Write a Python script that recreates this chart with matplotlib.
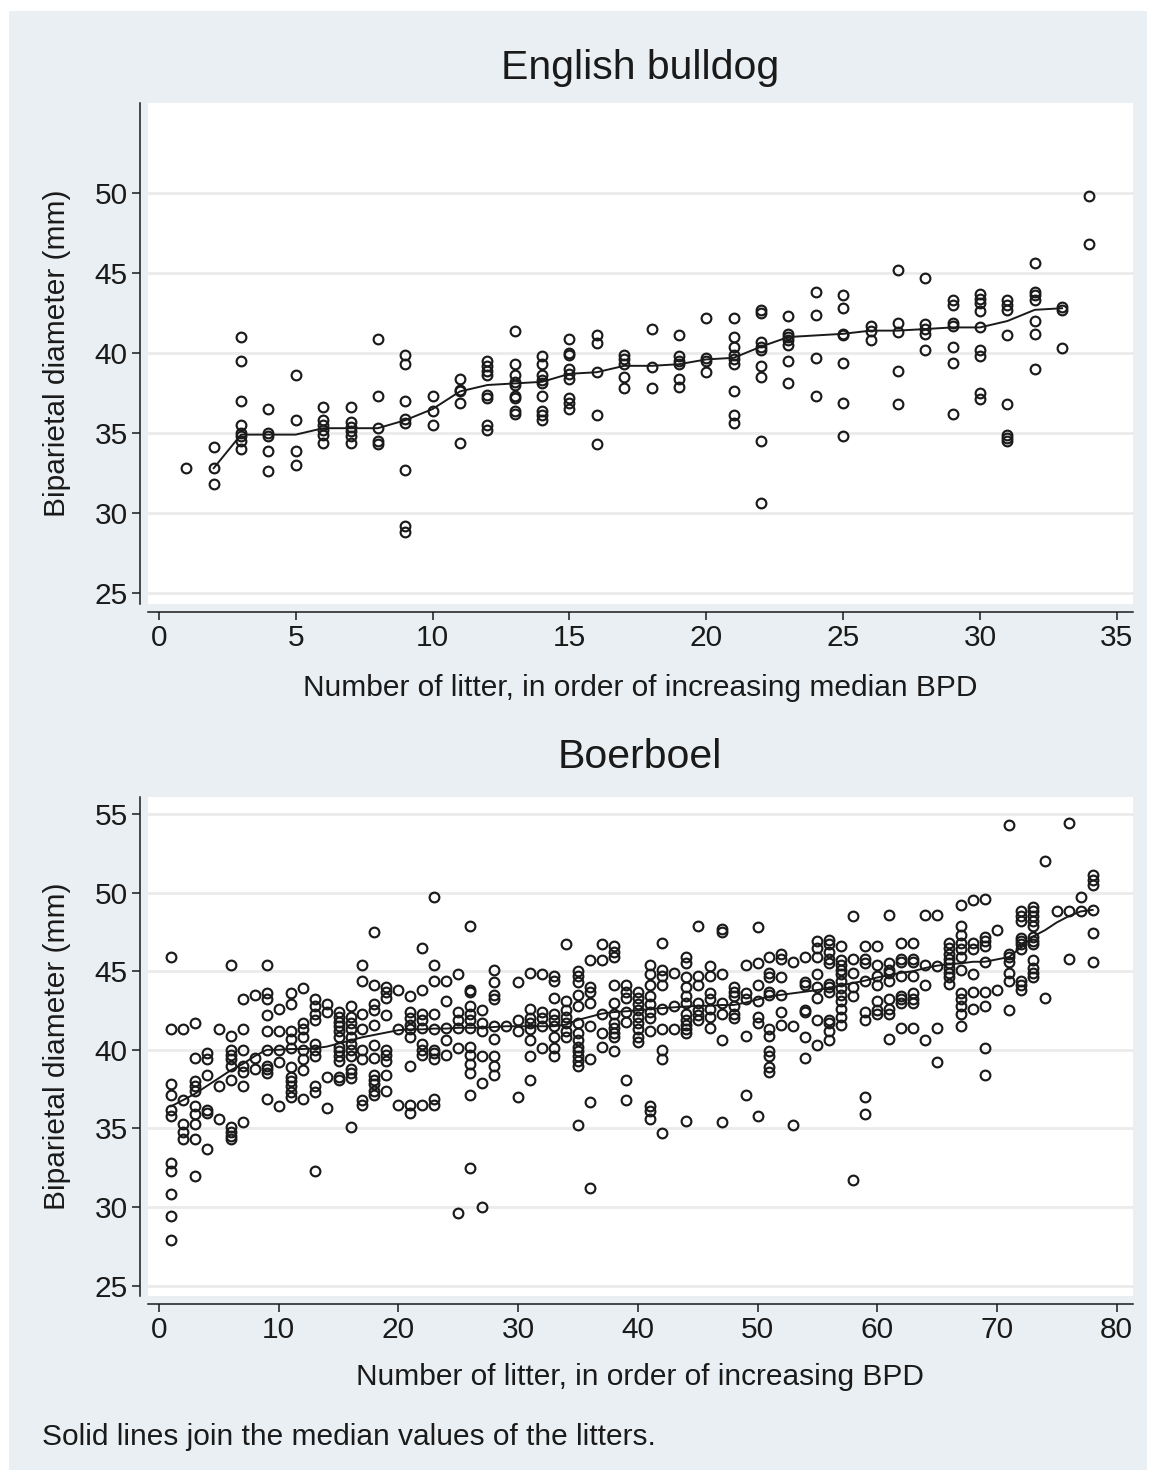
import matplotlib
matplotlib.use("Agg")
import matplotlib.pyplot as plt
from matplotlib.patches import Rectangle

plt.rcParams['font.family'] = ['Liberation Sans', 'DejaVu Sans']

# ===== Data: English bulldog, BPD (mm) per litter =====
bulldog_bpd = [
    [32.8],
    [34.1, 32.8, 31.8],
    [41.0, 39.5, 37.0, 35.5, 35.0, 34.8, 34.5, 34.0],
    [36.5, 35.0, 34.8, 33.9, 32.6],
    [38.6, 35.8, 33.9, 33.0],
    [36.6, 35.8, 35.5, 35.2, 34.9, 34.4],
    [36.6, 35.7, 35.4, 35.1, 34.8, 34.4],
    [40.9, 37.3, 35.3, 34.5, 34.3],
    [39.9, 39.3, 37.0, 35.9, 35.6, 32.7, 29.2, 28.8],
    [37.3, 36.4, 35.5],
    [38.4, 37.7, 37.6, 36.9, 34.4],
    [39.5, 39.2, 38.9, 38.6, 37.4, 37.2, 35.5, 35.2],
    [41.4, 39.3, 38.6, 38.2, 38.0, 37.3, 37.2, 36.4, 36.2],
    [39.8, 39.3, 38.6, 38.3, 38.1, 37.3, 36.4, 36.1, 35.8],
    [40.9, 40.0, 39.9, 39.0, 38.7, 38.4, 37.2, 36.9, 36.5],
    [41.1, 40.6, 38.8, 36.1, 34.3],
    [39.9, 39.6, 39.3, 38.5, 37.8],
    [41.5, 39.1, 37.8],
    [41.1, 39.8, 39.5, 39.3, 38.4, 37.9],
    [42.2, 39.7, 39.5, 38.8],
    [42.2, 41.0, 40.4, 39.9, 39.6, 39.3, 37.6, 36.1, 35.6],
    [42.7, 42.5, 40.7, 40.4, 40.2, 39.2, 38.5, 34.5, 30.6],
    [42.3, 41.2, 41.0, 40.8, 40.5, 39.5, 38.1],
    [43.8, 42.4, 39.7, 37.3],
    [43.6, 42.8, 41.2, 41.1, 39.4, 36.9, 34.8],
    [41.7, 41.4, 40.8],
    [45.2, 41.9, 41.3, 38.9, 36.8],
    [44.7, 41.8, 41.5, 41.2, 40.2],
    [43.3, 43.0, 41.9, 41.7, 40.4, 39.4, 36.2],
    [43.7, 43.4, 43.1, 42.6, 41.6, 40.2, 39.8, 37.5, 37.1],
    [43.3, 43.0, 42.7, 41.1, 36.8, 34.9, 34.7, 34.5],
    [45.6, 43.8, 43.6, 43.3, 42.0, 41.2, 39.0],
    [42.9, 42.7, 40.3],
    [49.8, 46.8],
]
bulldog_line_x = list(range(2, 34))
bulldog_line = [32.8, 34.9, 34.9, 34.9, 35.3, 35.3, 35.3, 35.8, 36.5, 37.6,
                38.0, 38.1, 38.2, 38.7, 38.8, 39.2, 39.2, 39.3, 39.6, 39.7,
                40.4, 41.0, 41.1, 41.2, 41.4, 41.4, 41.5, 41.6, 41.6, 42.0,
                42.7, 42.8]

# ===== Data: Boerboel, BPD (mm) per litter =====
boerboel_bpd = [
    [45.9, 41.3, 37.8, 37.1, 36.2, 35.8, 32.8, 32.3, 30.8, 29.4, 27.9],
    [41.3, 36.8, 35.3, 34.8, 34.3],
    [41.7, 39.5, 38.0, 37.7, 37.4, 36.4, 35.9, 35.3, 34.3, 32.0],
    [39.8, 39.4, 38.4, 36.2, 36.0, 33.7],
    [41.3, 37.7, 35.6],
    [45.4, 40.9, 40.0, 39.7, 39.4, 39.0, 38.1, 35.1, 34.8, 34.5, 34.3],
    [43.2, 41.3, 40.0, 39.0, 38.6, 37.7, 35.4],
    [43.5, 39.5, 38.8],
    [45.4, 43.6, 43.2, 42.2, 41.2, 40.0, 39.0, 38.8, 38.5, 36.9],
    [42.6, 41.2, 40.0, 39.2, 36.4],
    [43.6, 42.9, 41.2, 40.7, 40.1, 38.9, 38.3, 38.0, 37.7, 37.3, 37.0],
    [43.9, 41.7, 41.3, 40.8, 40.0, 39.4, 38.7, 36.9],
    [43.2, 42.8, 42.3, 41.9, 40.4, 40.0, 39.6, 37.7, 37.3, 32.3],
    [42.9, 42.4, 38.3, 36.3],
    [42.4, 42.1, 41.8, 41.5, 41.2, 40.8, 40.2, 39.9, 39.6, 39.3, 38.3, 38.1],
    [42.8, 42.1, 41.7, 41.3, 40.8, 40.4, 40.0, 39.6, 38.8, 38.5, 38.2, 35.1],
    [45.4, 44.4, 42.3, 41.3, 40.0, 39.4, 36.8, 36.5],
    [47.5, 44.1, 42.9, 42.5, 41.6, 40.3, 39.5, 38.4, 38.1, 37.8, 37.4, 37.1],
    [44.0, 43.7, 43.3, 42.2, 40.0, 39.7, 39.3, 38.4, 37.4],
    [43.8, 41.3, 36.5],
    [43.4, 42.4, 42.0, 41.6, 41.3, 40.8, 39.0, 36.5, 36.0],
    [46.5, 43.8, 42.3, 41.9, 41.4, 40.4, 40.0, 39.7, 36.5],
    [49.7, 45.4, 44.4, 42.3, 41.3, 40.0, 39.8, 39.4, 36.9, 36.5],
    [44.4, 43.1, 41.4, 40.6, 39.7],
    [44.8, 42.4, 41.9, 41.4, 40.1, 29.6],
    [47.9, 43.8, 43.7, 42.8, 42.3, 41.9, 41.4, 40.2, 39.7, 39.1, 38.5, 37.1, 32.5],
    [42.5, 41.7, 41.2, 39.6, 37.9, 30.0],
    [45.1, 44.3, 43.5, 43.2, 41.5, 40.7, 39.6, 39.0, 38.4],
    [41.5],
    [44.3, 41.9, 41.2, 37.0],
    [44.9, 42.6, 42.0, 41.7, 41.3, 40.6, 39.6, 38.1],
    [44.8, 42.4, 42.0, 41.5, 40.1],
    [44.7, 44.4, 43.3, 42.3, 41.9, 41.5, 40.8, 40.1, 39.6],
    [46.7, 43.1, 42.5, 42.1, 41.7, 41.2, 40.8],
    [45.0, 44.7, 44.3, 43.5, 42.8, 41.7, 41.1, 40.6, 40.2, 39.9, 39.6, 39.3, 39.0, 35.2],
    [45.7, 44.0, 43.7, 43.0, 41.5, 39.4, 36.7, 31.2],
    [46.7, 45.7, 42.3, 41.1, 40.2],
    [46.6, 46.2, 45.9, 44.1, 43.0, 42.3, 41.7, 41.4, 41.1, 40.8, 39.9],
    [44.1, 43.7, 43.3, 42.4, 41.8, 38.1, 36.8],
    [43.7, 43.3, 42.9, 42.5, 42.1, 41.7, 41.3, 40.8, 40.5],
    [45.4, 44.8, 44.1, 43.4, 42.9, 42.4, 42.0, 41.2, 36.4, 36.1, 35.6],
    [46.8, 45.1, 44.7, 44.1, 42.6, 41.3, 40.0, 39.4, 34.7],
    [44.9, 42.8, 41.3],
    [45.9, 45.5, 44.6, 44.0, 43.4, 43.0, 42.3, 41.9, 41.6, 41.3, 41.1, 35.5],
    [47.9, 44.7, 44.1, 43.0, 42.5, 42.2, 41.9],
    [45.3, 44.7, 43.6, 43.2, 42.6, 42.1, 41.4],
    [47.7, 47.5, 44.8, 43.0, 42.3, 40.6, 35.4],
    [44.0, 43.7, 43.4, 42.8, 42.3, 42.0],
    [45.4, 43.6, 43.2, 40.9, 37.1],
    [47.8, 45.5, 44.1, 43.1, 42.1, 41.7, 35.8],
    [45.9, 44.9, 44.6, 43.7, 43.5, 41.3, 40.9, 39.9, 39.6, 38.9, 38.6],
    [46.1, 45.8, 44.6, 43.5, 42.4, 41.6],
    [45.6, 41.5, 35.2],
    [45.9, 44.3, 44.1, 42.5, 42.4, 40.8, 39.5],
    [46.9, 46.5, 45.9, 44.8, 44.0, 43.3, 41.9, 40.3],
    [47.0, 46.7, 46.2, 45.8, 45.5, 44.2, 44.0, 43.7, 41.9, 41.7, 41.2, 40.6],
    [46.6, 45.7, 45.4, 45.1, 44.8, 44.4, 43.9, 43.5, 43.1, 42.6, 42.1, 41.6],
    [48.5, 45.8, 44.9, 44.0, 43.4, 31.7],
    [46.6, 45.8, 45.5, 44.4, 42.4, 41.9, 37.0, 35.9],
    [46.6, 45.4, 44.7, 44.1, 43.1, 42.5, 42.3],
    [48.6, 45.5, 45.1, 44.9, 44.4, 43.2, 42.6, 42.3, 40.7],
    [46.8, 45.8, 45.6, 44.7, 43.4, 43.2, 43.0, 41.4],
    [46.8, 45.8, 45.6, 44.7, 43.6, 43.2, 43.0, 41.4],
    [48.6, 45.4, 44.1, 40.6],
    [48.6, 45.3, 41.4, 39.2],
    [46.8, 46.5, 46.1, 45.8, 45.5, 45.2, 44.9, 44.6, 44.2],
    [49.2, 47.9, 47.3, 46.8, 46.4, 45.9, 45.1, 43.6, 43.2, 42.8, 42.3, 41.5],
    [49.5, 46.8, 46.4, 44.8, 43.7, 42.6],
    [49.6, 47.2, 46.9, 46.6, 45.6, 43.7, 42.8, 40.1, 38.4],
    [47.6, 43.8],
    [54.3, 46.1, 45.9, 45.6, 44.9, 44.4, 42.5],
    [48.8, 48.5, 48.2, 47.1, 46.9, 46.7, 46.4, 44.4, 44.1, 43.8],
    [49.1, 48.8, 48.5, 48.2, 47.9, 47.2, 46.9, 46.7, 45.7, 45.2, 44.9, 44.6],
    [52.0, 43.3],
    [48.8],
    [54.4, 48.8, 45.8],
    [49.7, 48.8],
    [51.1, 50.8, 50.5, 48.9, 47.4, 45.6],
]
boerboel_line_x = list(range(1, 79))
boerboel_line = [36.4, 36.8, 37.2, 37.7, 38.2, 38.7, 39.1, 39.6, 40.0, 40.0,
                 40.05, 40.05, 40.1, 40.2, 40.4, 40.6, 40.8, 40.95, 41.1, 41.25,
                 41.3, 41.3, 41.35, 41.35, 41.4, 41.4, 41.4, 41.45, 41.5, 41.5,
                 41.5, 41.5, 41.5, 41.6, 41.9, 42.1, 42.3, 42.4, 42.45, 42.5,
                 42.6, 42.65, 42.7, 42.75, 42.8, 42.8, 42.85, 42.85, 43.0, 43.2,
                 43.4, 43.5, 43.6, 43.7, 43.8, 43.95, 44.1, 44.25, 44.4, 44.6,
                 44.75, 44.9, 45.0, 45.2, 45.35, 45.45, 45.5, 45.6, 45.6, 45.75,
                 45.9, 46.5, 47.2, 47.6, 48.1, 48.5, 48.8, 48.9]

W, H = 1150, 1479
fig = plt.figure(figsize=(W / 100, H / 100), dpi=100)
fig.patch.set_facecolor('white')
fig.add_artist(Rectangle((9 / W, 1 - 1470 / H), (1147 - 9) / W, (1470 - 11) / H,
                         transform=fig.transFigure, facecolor='#e9eff2',
                         edgecolor='none', zorder=-10))

INK = '#1a1a1a'
FS = 21.5


def px_axes(l, t, r, b):
    return fig.add_axes([l / W, 1 - b / H, (r - l) / W, (b - t) / H])


def style(ax, xticks, yticks, xlim, ylim):
    ax.set_facecolor('white')
    ax.set_xlim(*xlim); ax.set_ylim(*ylim)
    ax.set_xticks(xticks); ax.set_yticks(yticks)
    for s in ['top', 'right']:
        ax.spines[s].set_visible(False)
    for s in ['left', 'bottom']:
        ax.spines[s].set_position(('outward', 5.8))
        ax.spines[s].set_color(INK); ax.spines[s].set_linewidth(1.1)
    ax.tick_params(direction='out', length=5.8, width=1.1, color=INK,
                   labelsize=FS, labelcolor=INK, pad=3)
    ax.yaxis.grid(True, color='#ebebeb', lw=2)
    ax.set_axisbelow(True)


def draw(ax, groups, lx, ly):
    for i, vals in enumerate(groups):
        ax.plot([i + 1] * len(vals), vals, 'o', mfc='none', mec=INK,
                ms=7.0, mew=1.55, zorder=3)
    ax.plot(lx, ly, color=INK, lw=1.4, zorder=4)


# --- English bulldog ---
ax1 = px_axes(148, 103, 1133, 604)
style(ax1, range(0, 36, 5), range(25, 51, 5), (-0.40, 35.59), (24.31, 55.63))
draw(ax1, bulldog_bpd, bulldog_line_x, bulldog_line)

# --- Boerboel ---
ax2 = px_axes(148, 797, 1133, 1296)
style(ax2, range(0, 81, 10), range(25, 56, 5), (-0.92, 81.37), (24.34, 56.08))
draw(ax2, boerboel_bpd, boerboel_line_x, boerboel_line)

# texts
fig.text(640 / W, 1 - 68 / H, 'English bulldog', ha='center', va='center',
         fontsize=29.5, color=INK)
fig.text(640 / W, 1 - 757 / H, 'Boerboel', ha='center', va='center',
         fontsize=29.5, color=INK)
fig.text(640 / W, 1 - 688 / H, 'Number of litter, in order of increasing median BPD',
         ha='center', va='center', fontsize=FS, color=INK)
fig.text(640 / W, 1 - 1377 / H, 'Number of litter, in order of increasing BPD',
         ha='center', va='center', fontsize=FS, color=INK)
fig.text(57 / W, 1 - 353 / H, 'Biparietal diameter (mm)', rotation=90,
         ha='center', va='center', fontsize=FS, color=INK)
fig.text(57 / W, 1 - 1046 / H, 'Biparietal diameter (mm)', rotation=90,
         ha='center', va='center', fontsize=FS, color=INK)
fig.text(42 / W, 1 - 1437 / H, 'Solid lines join the median values of the litters.',
         ha='left', va='center', fontsize=FS, color=INK)

fig.savefig('out.png', dpi=100)
